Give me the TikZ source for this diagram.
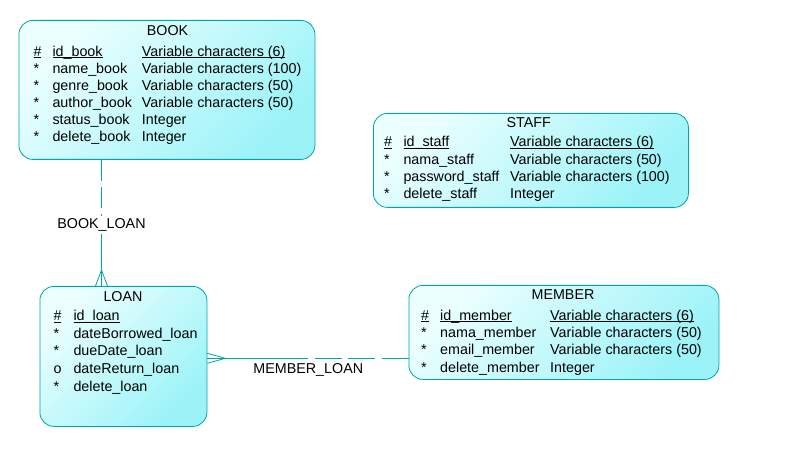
\documentclass[tikz,border=0pt]{standalone}
\usepackage{fontspec}
\setmainfont{Liberation Sans}
\usetikzlibrary{calc}
\definecolor{edge}{RGB}{0,165,165}
\definecolor{fillA}{RGB}{236,255,255}
\definecolor{fillB}{RGB}{155,243,248}
\newcommand\keyul[1]{\setbox0\hbox{#1}\rlap{\rule[-1.6pt]{\wd0}{0.8pt}}\box0}
\begin{document}
\begin{tikzpicture}[x=1pt,y=-1pt,
  font=\fontsize{14.3}{17}\selectfont,
  entity/.style={draw=edge, line width=0.8pt, rounded corners=14pt,
    top color=fillA, bottom color=fillB, shading angle=45,
    anchor=north west, inner sep=0pt},
  txt/.style={anchor=base west, inner sep=0pt, text=black},
  ttl/.style={anchor=base, inner sep=0pt, text=black},
  rel/.style={draw=edge, line width=0.8pt},
  dashrel/.style={rel, dash pattern=on 21pt off 6pt}]
\useasboundingbox (0,0) rectangle (785,457);

% entities
\node[entity, minimum width=296pt, minimum height=139pt] (book) at (18.5,20) {};
\node[entity, minimum width=315pt, minimum height=94pt] (staff) at (373,113) {};
\node[entity, minimum width=167pt, minimum height=140pt] (loan) at (39.5,286) {};
\node[entity, minimum width=310pt, minimum height=94pt] (member) at (408.5,285) {};

% titles
\node[ttl] (bookT) at (167.5,35.7) {BOOK};
\node[ttl] (staffT) at (528.8,127.3) {STAFF};
\node[ttl] (loanT) at (123,301.7) {LOAN};
\node[ttl] (memberT) at (563,300) {MEMBER};

% BOOK attributes
\node[txt] (bm1) at (33.3,56.3) {\keyul{\#}};
\node[txt] (bn1) at (52.3,56.3) {\keyul{id\_book}};
\node[txt] (bt1) at (141.7,56.3) {\keyul{Variable characters (6)}};
\foreach \n/\t [count=\i from 2] in {name\_book/{Variable characters (100)},
    genre\_book/{Variable characters (50)}, author\_book/{Variable characters (50)},
    status\_book/Integer, delete\_book/Integer}{
  \node[txt] (bm\i) at (33.3,{56.3+17.1*(\i-1)}) {*};
  \node[txt] (bn\i) at (52.3,{56.3+17.1*(\i-1)}) {\n};
  \node[txt] (bt\i) at (141.7,{56.3+17.1*(\i-1)}) {\t};
}

% STAFF attributes
\node[txt] (sm1) at (384,147) {\keyul{\#}};
\node[txt] (sn1) at (403.3,147) {\keyul{id\_staff}};
\node[txt] (st1) at (510,147) {\keyul{Variable characters (6)}};
\foreach \n/\t [count=\i from 2] in {nama\_staff/{Variable characters (50)},
    password\_staff/{Variable characters (100)}, delete\_staff/Integer}{
  \node[txt] (sm\i) at (384,{147+17.2*(\i-1)}) {*};
  \node[txt] (sn\i) at (403.3,{147+17.2*(\i-1)}) {\n};
  \node[txt] (st\i) at (510,{147+17.2*(\i-1)}) {\t};
}

% LOAN attributes
\node[txt] (lm1) at (53.3,320.7) {\keyul{\#}};
\node[txt] (ln1) at (73.3,320.7) {\keyul{id\_loan}};
\foreach \m/\n [count=\i from 2] in {*/dateBorrowed\_loan, */dueDate\_loan,
    o/dateReturn\_loan, */delete\_loan}{
  \node[txt] (lm\i) at (53.3,{320.7+17.6*(\i-1)}) {\m};
  \node[txt] (ln\i) at (73.3,{320.7+17.6*(\i-1)}) {\n};
}

% MEMBER attributes
\node[txt] (mm1) at (421,320) {\keyul{\#}};
\node[txt] (mn1) at (440,320) {\keyul{id\_member}};
\node[txt] (mt1) at (550,320) {\keyul{Variable characters (6)}};
\foreach \n/\t [count=\i from 2] in {nama\_member/{Variable characters (50)},
    email\_member/{Variable characters (50)}, delete\_member/Integer}{
  \node[txt] (mm\i) at (421,{320+17.4*(\i-1)}) {*};
  \node[txt] (mn\i) at (440,{320+17.4*(\i-1)}) {\n};
  \node[txt] (mt\i) at (550,{320+17.4*(\i-1)}) {\t};
}

% BOOK_LOAN relationship
\node[anchor=base, inner sep=2.5pt, text=black] (bl) at (101.5,228.3) {BOOK\_LOAN};
\draw[dashrel] (book.south -| bl) -- (bl.north);
\draw[rel] (bl.south) -- (loan.north -| bl);
\draw[rel] ($(loan.north -| bl)+(-6,0)$) -- ($(loan.north -| bl)+(0,-16)$)
  -- ($(loan.north -| bl)+(6,0)$);

% MEMBER_LOAN relationship
\coordinate (ml) at (308.3,358.3);
\node[anchor=base, inner sep=0pt, text=black] (mlT) at (308.3,373.3) {MEMBER\_LOAN};
\draw[rel] (loan.east |- ml) -- (ml);
\draw[rel, dash pattern=on 27pt off 6.5pt] (member.west |- ml) -- (ml);
\draw[rel] ($(loan.east |- ml)+(0,-5)$) -- ($(loan.east |- ml)+(18,0)$)
  -- ($(loan.east |- ml)+(0,5)$);
\end{tikzpicture}
\end{document}
